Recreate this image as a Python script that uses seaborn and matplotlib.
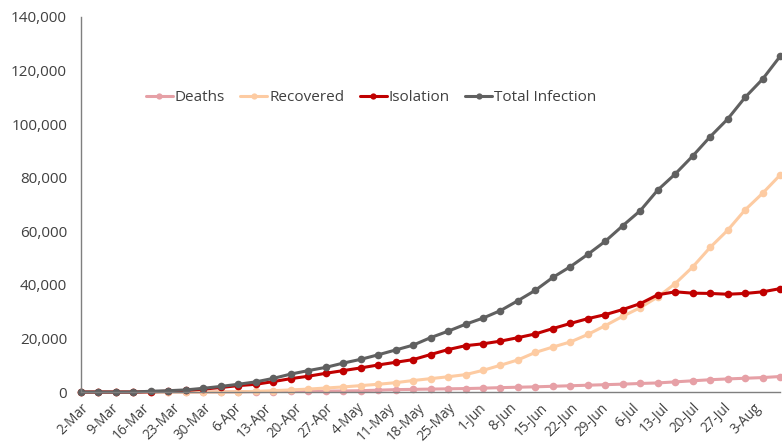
import matplotlib
matplotlib.use("Agg")
import matplotlib.pyplot as plt
import numpy as np
import pandas as pd
import seaborn as sns

# data: one point every 4 days starting 2-Mar
dates = pd.date_range("2020-03-02", periods=41, freq="4D")

deaths = [0, 0, 0, 0, 5, 10, 20, 40, 60, 100, 150, 200, 250, 300, 350, 400,
          500, 700, 900, 1000, 1100, 1200, 1300, 1450, 1650, 1800, 1950, 2150,
          2350, 2550, 2750, 2950, 3200, 3400, 3800, 4200, 4600, 4900, 5150,
          5400, 5800]
recovered = [0, 0, 0, 0, 0, 0, 0, 20, 50, 100, 250, 500, 800, 1100, 1500, 1900,
             2400, 2900, 3500, 4300, 5000, 5700, 6500, 8100, 10000, 12000, 14800,
             16800, 18700, 21500, 24800, 28300, 31500, 35500, 40500, 46700,
             54000, 60400, 68000, 74200, 81000]
isolation = [0, 0, 0, 0, 100, 300, 600, 1100, 1700, 2400, 2900, 3900, 5000,
             5900, 7000, 8000, 9000, 10100, 11100, 12100, 14000, 15850, 17300,
             18000, 19000, 20300, 21700, 23700, 25600, 27400, 28900, 30800,
             33000, 36300, 37400, 36900, 36800, 36500, 36800, 37400, 38600]
total = [0, 0, 0, 0, 300, 500, 800, 1400, 2100, 2900, 3800, 5100, 6700, 8000,
         9200, 10800, 12200, 13900, 15700, 17500, 20300, 22700, 25300, 27600,
         30400, 34100, 38000, 42800, 46800, 51400, 56300, 62100, 67700, 75400,
         81400, 88100, 95300, 101900, 110000, 116800, 125300]

series = ["Deaths", "Recovered", "Isolation", "Total Infection"]
colors = ["#E6A0A6", "#FDCBA2", "#C00000", "#606060"]

df = pd.DataFrame({"date": dates, "Deaths": deaths, "Recovered": recovered,
                   "Isolation": isolation, "Total Infection": total})
long = df.melt(id_vars="date", var_name="series", value_name="count")

sns.set_style("white")
plt.rcParams["font.family"] = ["Open Sans", "DejaVu Sans"]

fig = plt.figure(figsize=(7.82, 4.45), dpi=100)
ax = fig.add_axes([0.1036, 0.119, 0.894, 0.843])

sns.lineplot(data=long, x="date", y="count", hue="series", hue_order=series,
             palette=colors, marker="o", markersize=5.5, markeredgewidth=0,
             linewidth=2.2, ax=ax, legend=False, clip_on=False)

ax.set_xlim(dates[0], dates[-1])
ax.set_ylim(0, 140000)
ax.set_yticks(np.arange(0, 140001, 20000))
ax.yaxis.set_major_formatter(plt.FuncFormatter(lambda v, _: f"{v:,.0f}"))

ticks = pd.date_range("2020-03-02", "2020-08-03", freq="7D")
ax.set_xticks(ticks)
ax.set_xticklabels([f"{d.day}-{d.strftime('%b')}" for d in ticks],
                   rotation=45, ha="right", rotation_mode="anchor")

ax.set_xlabel("")
ax.set_ylabel("")
for side in ["top", "right"]:
    ax.spines[side].set_visible(False)
for side in ["left", "bottom"]:
    ax.spines[side].set_color("#7F7F7F")
    ax.spines[side].set_linewidth(1.0)
ax.tick_params(axis="both", which="both", direction="out", length=4,
               color="#7F7F7F", labelcolor="#404040")
ax.tick_params(axis="y", labelsize=11, pad=6)
ax.tick_params(axis="x", labelsize=9.8, pad=2)

handles = [plt.Line2D([], [], color=c, marker="o", markersize=4.5,
                      markeredgewidth=0, linewidth=2.2) for c in colors]
ax.legend(handles, series, loc="center", bbox_to_anchor=(0.415, 0.785),
          ncol=4, frameon=False, fontsize=11, handlelength=1.75,
          handletextpad=0.15, columnspacing=1.0, labelcolor="#404040")

fig.savefig("out.png", dpi=100)
